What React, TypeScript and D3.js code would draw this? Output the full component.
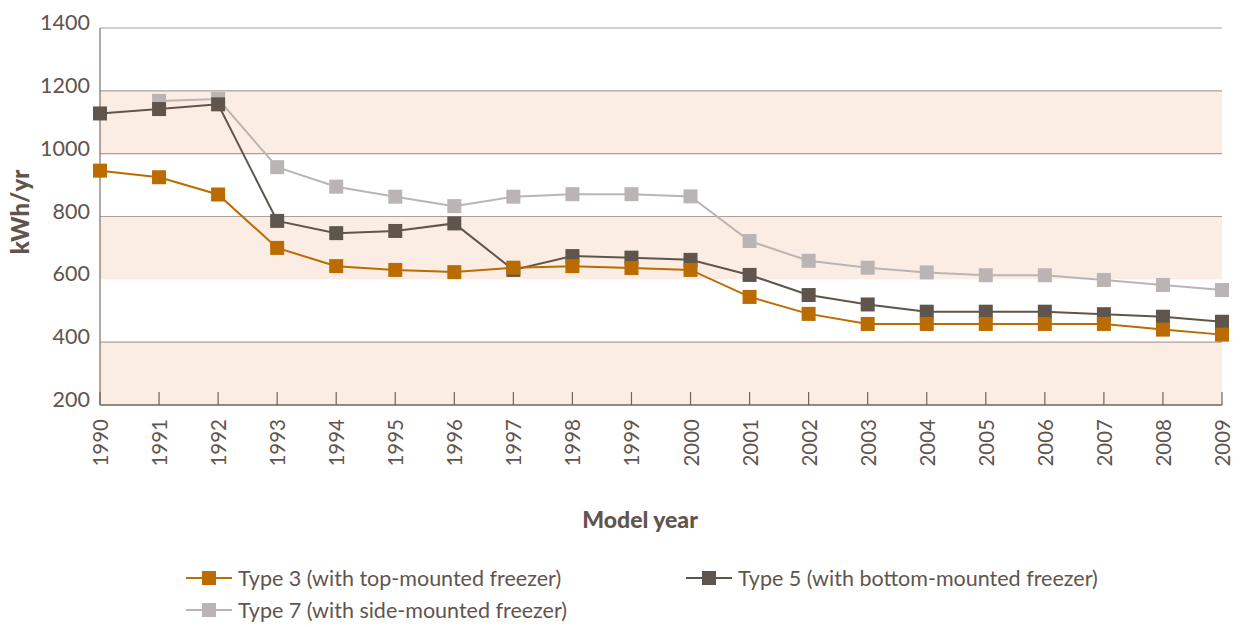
import React from "react";
import * as d3 from "d3";

const years = [1990,1991,1992,1993,1994,1995,1996,1997,1998,1999,2000,2001,2002,2003,2004,2005,2006,2007,2008,2009];
const type3 = [946,925,870,700,642,630,623,637,642,636,630,544,490,458,458,458,458,458,440,424];
const type5 = [1128,1142,1157,786,747,754,778,630,674,669,662,614,550,520,497,497,497,489,481,465];
const type7: (number | null)[] = [null,1168,1174,957,895,863,833,863,871,871,864,722,659,637,622,613,613,598,582,566];
const yTicks = [200,400,600,800,1000,1200,1400];
const bands = [[1000,1200],[600,800],[200,400]];
const gridValues = [1400,1200,1000,800,400];
const seriesNames = ["Type 3 (with top-mounted freezer)","Type 5 (with bottom-mounted freezer)","Type 7 (with side-mounted freezer)"];

const W = 1241, H = 627;
const M = { left: 100, right: 1222, top: 28, bottom: 405 };
const FONT = "Lato, 'Open Sans', sans-serif";
const TXT = "#5f554e";
const COLORS = ["#bb6c00", "#5f554c", "#bab5b4"];

export default function App() {
  const x = d3.scaleLinear().domain([1990, 2009]).range([M.left, M.right]);
  const y = d3.scaleLinear().domain([200, 1400]).range([M.bottom, M.top]);
  const line = d3.line<number | null>()
    .defined((d) => d != null)
    .x((_, i) => x(years[i]))
    .y((d) => y(d as number));
  const series = [
    { vals: type7 as (number | null)[], color: COLORS[2] },
    { vals: type5 as (number | null)[], color: COLORS[1] },
    { vals: type3 as (number | null)[], color: COLORS[0] },
  ];
  const sq = 14;
  const legend = [
    { name: seriesNames[0], color: COLORS[0], lx: 186, ly: 578 },
    { name: seriesNames[1], color: COLORS[1], lx: 686, ly: 578 },
    { name: seriesNames[2], color: COLORS[2], lx: 186, ly: 610 },
  ];
  return (
    <svg width={W} height={H} style={{ position: "absolute", left: 0, top: 0, background: "#fff" }} fontFamily={FONT}>
      {bands.map(([a, b], i) => (
        <rect key={i} x={M.left} y={y(b)} width={M.right - M.left} height={y(a) - y(b)} fill="#fcede4" />
      ))}
      {gridValues.map((v) => (
        <line key={v} x1={M.left} x2={M.right} y1={y(v)} y2={y(v)} stroke="#a9a19c" strokeWidth={1.2} />
      ))}
      <line x1={M.left} x2={M.left} y1={M.top} y2={M.bottom} stroke="#7a6e66" strokeWidth={1.2} />
      <line x1={M.left} x2={M.right} y1={M.bottom} y2={M.bottom} stroke="#6f635b" strokeWidth={1.5} />
      {years.map((yr) => (
        <line key={yr} x1={x(yr)} x2={x(yr)} y1={M.bottom} y2={M.bottom - 13} stroke="#6f635b" strokeWidth={1.2} />
      ))}
      {yTicks.map((v) => (
        <text key={v} x={90} y={y(v)} dy="0.1em" textAnchor="end" fontSize={21.5} fill={TXT}>{v}</text>
      ))}
      {years.map((yr) => (
        <text key={yr} transform={`translate(${x(yr) + 8},419) rotate(-90)`} textAnchor="end" fontSize={20.5} fill={TXT}>{yr}</text>
      ))}
      <text transform="translate(29,212) rotate(-90)" textAnchor="middle" fontSize={24} fontWeight="900" fill={TXT}>kWh/yr</text>
      <text x={640} y={528} textAnchor="middle" fontSize={23} fontWeight="900" fill={TXT}>Model year</text>
      {series.map((s, si) => (
        <g key={si}>
          <path d={line(s.vals) || ""} fill="none" stroke={s.color} strokeWidth={2} />
          {s.vals.map((v, i) => v == null ? null : (
            <rect key={i} x={x(years[i]) - sq / 2} y={y(v) - sq / 2} width={sq} height={sq} fill={s.color} />
          ))}
        </g>
      ))}
      {legend.map((l, i) => (
        <g key={i}>
          <line x1={l.lx} x2={l.lx + 46} y1={l.ly} y2={l.ly} stroke={l.color} strokeWidth={2} />
          <rect x={l.lx + 23 - 7} y={l.ly - 7} width={14} height={14} fill={l.color} />
          <text x={l.lx + 52} y={l.ly} dy="0.35em" fontSize={21.5} fill={TXT}>{l.name}</text>
        </g>
      ))}
    </svg>
  );
}
